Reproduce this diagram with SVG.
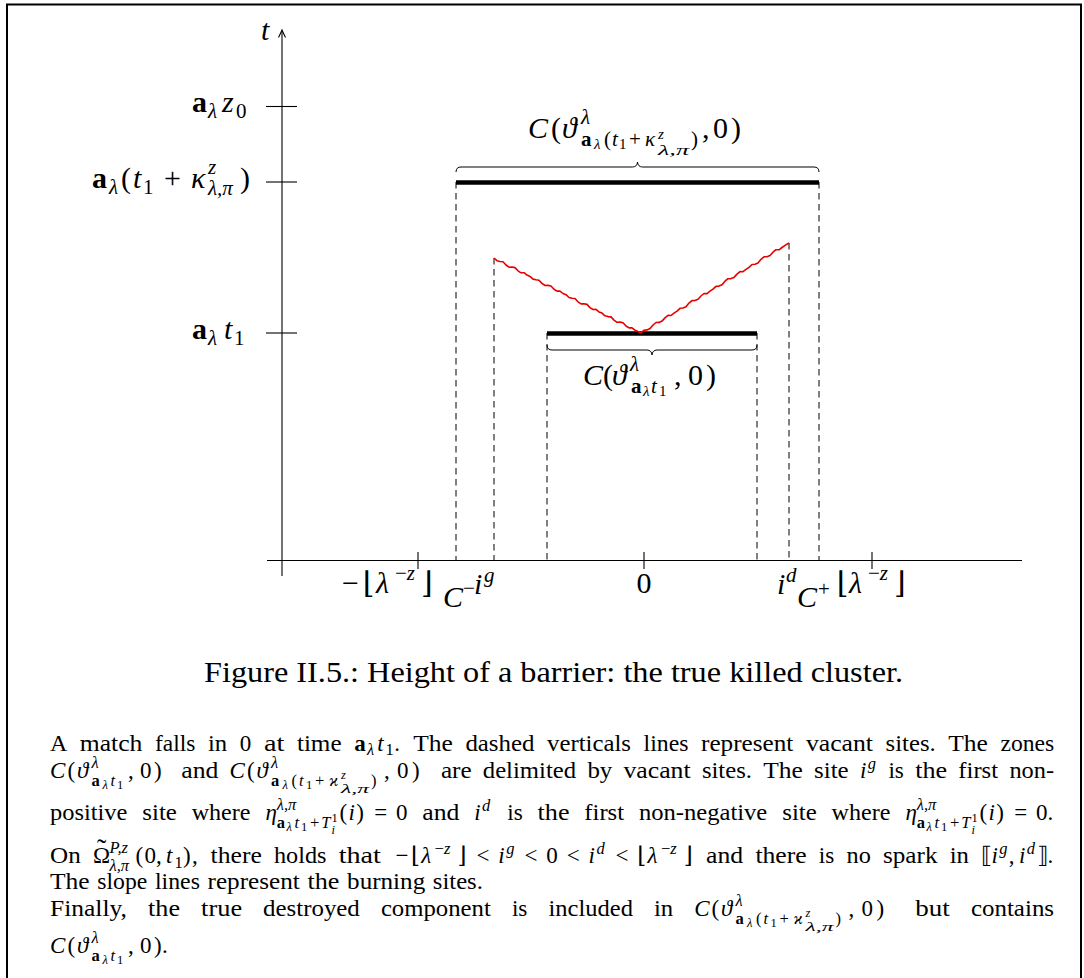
<svg xmlns="http://www.w3.org/2000/svg" width="1084" height="978" viewBox="0 0 1084 978">
<defs>
<style>
text{font-family:"Liberation Serif","DejaVu Serif","DejaVu Sans",serif;fill:#000}
.p{font-size:23px}
.s{font-size:16.5px}
.ss{font-size:12.5px}
.g{font-size:30px}
.gs{font-size:21px}
.gss{font-size:15px}
.i{font-style:italic}
.b{font-weight:bold}
.ax{stroke:#000;stroke-width:1.1;fill:none}
.dash{stroke:#000;stroke-width:1;stroke-dasharray:6.5 4.5;fill:none}
.bar{stroke:#000;stroke-width:4.5}
.brace{stroke:#000;stroke-width:1;fill:none}
</style>
</defs>
<rect x="0" y="0" width="1084" height="978" fill="#fff"/>
<g id="frame"><rect x="7" y="4.5" width="1074" height="1000" fill="none" stroke="#000" stroke-width="2"/></g>

<g id="axes">
<line class="ax" x1="282" y1="576" x2="282" y2="31"/>
<path class="ax" d="M278.5,37.5 Q280.5,33.5 282,30 Q283.5,33.5 285.5,37.5"/>
<line class="ax" x1="267" y1="560.5" x2="1022" y2="560.5"/>
<line class="ax" x1="266" y1="106.5" x2="297" y2="106.5"/>
<line class="ax" x1="266" y1="182" x2="297" y2="182"/>
<line class="ax" x1="266" y1="333" x2="297" y2="333"/>
<line class="ax" x1="418" y1="552" x2="418" y2="569"/>
<line class="ax" x1="644" y1="552" x2="644" y2="569"/>
<line class="ax" x1="872" y1="552" x2="872" y2="569"/>
</g>

<g id="axis-labels">
<text class="g i" x="261" y="40">t</text>
<text class="g" y="112"><tspan x="192" class="b">a</tspan><tspan x="208" y="118" class="gs i">λ</tspan><tspan x="222" y="112" class="i">z</tspan><tspan x="236" y="118" class="gs">0</tspan></text>
<text class="g" y="188"><tspan x="92" class="b">a</tspan><tspan x="109" y="194" class="gs i">λ</tspan><tspan x="121" y="188">(</tspan><tspan x="133" class="i">t</tspan><tspan x="143" y="194" class="gs">1</tspan><tspan x="164" y="188">+</tspan><tspan x="191" class="i">κ</tspan><tspan x="208" y="174" class="gs i">z</tspan><tspan x="208" y="195" class="gs i">λ,π</tspan><tspan x="240" y="188">)</tspan></text>
<text class="g" y="339"><tspan x="192" class="b">a</tspan><tspan x="208" y="345" class="gs i">λ</tspan><tspan x="224" y="339" class="i">t</tspan><tspan x="234" y="345" class="gs">1</tspan></text>
<text class="g" y="593"><tspan x="342">−</tspan><tspan x="363">⌊</tspan><tspan x="376" class="i">λ</tspan><tspan x="395" y="580" class="gs">−<tspan class="i">z</tspan></tspan><tspan x="421" y="593">⌋</tspan></text>
<text class="g" y="607"><tspan x="443" class="i">C</tspan><tspan x="463" y="595" class="gs">−</tspan></text>
<text class="g" y="594"><tspan x="474" class="i">i</tspan><tspan x="484" y="582" class="gs i">g</tspan></text>
<text class="g" x="644" y="593" text-anchor="middle">0</text>
<text class="g" y="594"><tspan x="777" class="i">i</tspan><tspan x="786" y="582" class="gs i">d</tspan></text>
<text class="g" y="607"><tspan x="797" class="i">C</tspan><tspan x="818" y="596" class="gs">+</tspan></text>
<text class="g" y="593"><tspan x="837">⌊</tspan><tspan x="849" class="i">λ</tspan><tspan x="868" y="580" class="gs">−<tspan class="i">z</tspan></tspan><tspan x="894" y="593">⌋</tspan></text>
</g>

<g id="connectors">
<line class="dash" x1="456" y1="182" x2="456" y2="560.5"/>
<line class="dash" x1="494" y1="258" x2="494" y2="560.5"/>
<line class="dash" x1="547" y1="333" x2="547" y2="560.5"/>
<line class="dash" x1="757" y1="333" x2="757" y2="560.5"/>
<line class="dash" x1="789" y1="243" x2="789" y2="560.5"/>
<line class="dash" x1="819" y1="182" x2="819" y2="560.5"/>
</g>

<g id="outer-cluster">
<line class="bar" x1="456" y1="182.5" x2="819" y2="182.5"/>
<path class="brace" d="M456,172 C456,168.5 458,167 461,167 L632.5,167 C635.5,167 637.5,165 637.5,162 C637.5,165 639.5,167 642.5,167 L814,167 C817,167 819,168.5 819,172"/>
<text class="g" y="138"><tspan x="528" class="i">C</tspan><tspan x="551">(</tspan><tspan x="562" class="i">ϑ</tspan><tspan x="581" y="124" class="gs i">λ</tspan><tspan x="581" y="146" class="gs b">a</tspan><tspan x="594" y="149" class="gss i">λ</tspan><tspan x="604" y="146" class="gs">(</tspan><tspan x="612" class="gs i">t</tspan><tspan x="619" y="149" class="gss">1</tspan><tspan x="629" y="146" class="gs">+</tspan><tspan x="645" class="gs i">κ</tspan><tspan x="658" y="139" class="gss i">z</tspan><tspan x="658" y="155" class="gss i" textLength="31" lengthAdjust="spacingAndGlyphs">λ,π</tspan><tspan x="691" y="146" class="gs">)</tspan><tspan x="702" y="138">,</tspan><tspan x="713">0</tspan><tspan x="731">)</tspan></text>
</g>

<g id="inner-cluster">
<line class="bar" x1="547" y1="333.5" x2="757" y2="333.5"/>
<path class="brace" d="M547,345 C547,348.5 549,350 552,350 L647,350 C650,350 652,352 652,355 C652,352 654,350 657,350 L752,350 C755,350 757,348.5 757,345"/>
<text class="g" y="385"><tspan x="583" class="i">C</tspan><tspan x="603">(</tspan><tspan x="612" class="i">ϑ</tspan><tspan x="630" y="371" class="gs i">λ</tspan><tspan x="631" y="393" class="gs b">a</tspan><tspan x="643" y="396" class="gss i">λ</tspan><tspan x="651" y="393" class="gs i">t</tspan><tspan x="659" y="396" class="gss">1</tspan><tspan x="674" y="385">,</tspan><tspan x="688">0</tspan><tspan x="706">)</tspan></text>
</g>

<g id="burning">
<polyline fill="none" stroke="#e80000" stroke-width="1.6" stroke-linejoin="round" points="494,258 497,260.7 500,261.5 503,261.8 506,265 509,267.2 512,267 515,267.6 518,270.8 521,272.8 524,272.7 527,275.1 530,276.4 533,279.1 536,279.8 539,280.2 542,283.4 545,285.5 548,285.4 551,286 554,289.2 557,291.1 560,291.1 563,293.5 566,294.7 569,297.5 572,298.2 575,298.5 578,301.8 581,303.9 584,303.7 587,304.4 590,307.6 593,309.5 596,309.4 599,311.9 602,313.1 605,315.8 608,316.6 611,316.9 614,320.1 617,322.3 620,322.1 623,322.7 626,326 629,327.9 632,327.8 635,330.2 638,331.5 641,333 644,330.2 647,329.9 650,328.6 653,325 656,322.5 659,322.4 662,321.1 665,317.9 668,315.4 671,315.5 674,313.1 677,311.1 680,308.3 683,308 686,306.7 689,303.1 692,300.6 695,300.5 698,299.2 701,296 704,293.5 707,293.6 710,291.2 713,289.2 716,286.4 719,286.1 722,284.8 725,281.2 728,278.7 731,278.6 734,277.4 737,274.1 740,271.6 743,271.7 746,269.4 749,267.3 752,264.5 755,264.2 758,263 761,259.3 764,256.8 767,256.7 770,255.5 773,252.2 776,249.7 779,249.8 782,247.5 785,245.4 789,243"/>
</g>

<g id="caption">
<text x="204" y="682" font-size="28.8" textLength="699" lengthAdjust="spacingAndGlyphs">Figure II.5.: Height of a barrier: the true killed cluster.</text>
</g>

<g id="paragraph">
<text class="p" y="751"><tspan x="50" textLength="17.3" lengthAdjust="spacingAndGlyphs">A</tspan><tspan x="79.8" textLength="62.6" lengthAdjust="spacingAndGlyphs">match</tspan><tspan x="155" textLength="40.4" lengthAdjust="spacingAndGlyphs">falls</tspan><tspan x="208" textLength="19.2" lengthAdjust="spacingAndGlyphs">in</tspan><tspan x="239.8">0</tspan><tspan x="263.9" textLength="20.4" lengthAdjust="spacingAndGlyphs">at</tspan><tspan x="296.9" textLength="44.7" lengthAdjust="spacingAndGlyphs">time</tspan><tspan x="354.2" class="b">a</tspan><tspan x="367.1" y="755" class="s i">λ</tspan><tspan x="377.2" y="751" class="i">t</tspan><tspan x="385.5" y="755" class="s">1</tspan><tspan x="394.2" y="751">.</tspan><tspan x="413.2" textLength="39.6" lengthAdjust="spacingAndGlyphs">The</tspan><tspan x="465.4" textLength="69.1" lengthAdjust="spacingAndGlyphs">dashed</tspan><tspan x="547.1" textLength="83.9" lengthAdjust="spacingAndGlyphs">verticals</tspan><tspan x="643.6" textLength="44.9" lengthAdjust="spacingAndGlyphs">lines</tspan><tspan x="701" textLength="92.3" lengthAdjust="spacingAndGlyphs">represent</tspan><tspan x="805.9" textLength="67.1" lengthAdjust="spacingAndGlyphs">vacant</tspan><tspan x="885.6" textLength="50.1" lengthAdjust="spacingAndGlyphs">sites.</tspan><tspan x="948.3" textLength="39.6" lengthAdjust="spacingAndGlyphs">The</tspan><tspan x="1000.5" textLength="53.8" lengthAdjust="spacingAndGlyphs">zones</tspan></text>

<text class="p" y="778"><tspan x="50" class="i">C</tspan><tspan x="67.5">(</tspan><tspan x="77" class="i">ϑ</tspan><tspan x="91.5" y="767.5" class="s i">λ</tspan><tspan x="91.5" y="785.5" class="s b">a</tspan><tspan x="102.5" y="788.5" class="ss i">λ</tspan><tspan x="110.5" y="785.5" class="s i">t</tspan><tspan x="117" y="788.5" class="ss">1</tspan><tspan x="128" y="778">,</tspan><tspan x="140">0</tspan><tspan x="154">)</tspan><tspan x="181.3" textLength="37.1" lengthAdjust="spacingAndGlyphs">and</tspan><tspan x="229.6" class="i">C</tspan><tspan x="247">(</tspan><tspan x="256.5" class="i">ϑ</tspan><tspan x="271" y="767.5" class="s i">λ</tspan><tspan x="271" y="785.5" class="s b">a</tspan><tspan x="282.5" y="788.5" class="ss i">λ</tspan><tspan x="291.5" y="785.5" class="s">(</tspan><tspan x="299" class="s i">t</tspan><tspan x="306" y="788.5" class="ss">1</tspan><tspan x="315" y="785.5" class="s">+</tspan><tspan x="329" class="s i">ϰ</tspan><tspan x="341" y="779" class="ss i">z</tspan><tspan x="341" y="792.5" class="ss i" textLength="28" lengthAdjust="spacingAndGlyphs">λ,π</tspan><tspan x="371" y="785.5" class="s">)</tspan><tspan x="384" y="778">,</tspan><tspan x="397">0</tspan><tspan x="412">)</tspan><tspan x="440.9" textLength="30.7" lengthAdjust="spacingAndGlyphs">are</tspan><tspan x="482.8" textLength="93.3" lengthAdjust="spacingAndGlyphs">delimited</tspan><tspan x="587.4" textLength="24.9" lengthAdjust="spacingAndGlyphs">by</tspan><tspan x="623.5" textLength="67.1" lengthAdjust="spacingAndGlyphs">vacant</tspan><tspan x="701.9" textLength="50.1" lengthAdjust="spacingAndGlyphs">sites.</tspan><tspan x="763.2" textLength="39.6" lengthAdjust="spacingAndGlyphs">The</tspan><tspan x="814.1" textLength="34.6" lengthAdjust="spacingAndGlyphs">site</tspan><tspan x="859.9" class="i">i</tspan><tspan x="867.8" y="768.5" class="s i">g</tspan><tspan x="888.4" y="778" textLength="15.5" lengthAdjust="spacingAndGlyphs">is</tspan><tspan x="915.2" textLength="31.9" lengthAdjust="spacingAndGlyphs">the</tspan><tspan x="958.3" textLength="39.8" lengthAdjust="spacingAndGlyphs">first</tspan><tspan x="1009.4" textLength="44.7" lengthAdjust="spacingAndGlyphs">non-</tspan></text>

<text class="p" y="820"><tspan x="50" textLength="77.4" lengthAdjust="spacingAndGlyphs">positive</tspan><tspan x="142.3" textLength="34.6" lengthAdjust="spacingAndGlyphs">site</tspan><tspan x="191.7" textLength="58.8" lengthAdjust="spacingAndGlyphs">where</tspan><tspan x="265.4" class="i">η</tspan><tspan x="276.8" y="809.5" class="s i">λ,π</tspan><tspan x="276.8" y="827.5" class="s b">a</tspan><tspan x="286.5" y="830.5" class="ss i">λ</tspan><tspan x="294.6" y="827.5" class="s i">t</tspan><tspan x="300.9" y="830.5" class="ss">1</tspan><tspan x="310" y="827.5" class="s">+</tspan><tspan x="321.3" class="s i">T</tspan><tspan x="331.4" y="821.5" class="ss">1</tspan><tspan x="331.4" y="834" class="ss i">i</tspan><tspan x="339.5" y="820">(</tspan><tspan x="348.4" class="i">i</tspan><tspan x="356.3">)</tspan><tspan x="374.2">=</tspan><tspan x="396">0</tspan><tspan x="422.3" textLength="37.1" lengthAdjust="spacingAndGlyphs">and</tspan><tspan x="474.2" class="i">i</tspan><tspan x="482.1" y="810.5" class="s i">d</tspan><tspan x="507.3" y="820" textLength="15.5" lengthAdjust="spacingAndGlyphs">is</tspan><tspan x="537.6" textLength="31.9" lengthAdjust="spacingAndGlyphs">the</tspan><tspan x="584.3" textLength="39.8" lengthAdjust="spacingAndGlyphs">first</tspan><tspan x="638.9" textLength="128.4" lengthAdjust="spacingAndGlyphs">non-negative</tspan><tspan x="782.2" textLength="34.6" lengthAdjust="spacingAndGlyphs">site</tspan><tspan x="831.6" textLength="58.8" lengthAdjust="spacingAndGlyphs">where</tspan><tspan x="905.4" class="i">η</tspan><tspan x="916.8" y="809.5" class="s i">λ,π</tspan><tspan x="916.8" y="827.5" class="s b">a</tspan><tspan x="926.5" y="830.5" class="ss i">λ</tspan><tspan x="934.6" y="827.5" class="s i">t</tspan><tspan x="940.9" y="830.5" class="ss">1</tspan><tspan x="950" y="827.5" class="s">+</tspan><tspan x="961.3" class="s i">T</tspan><tspan x="971.4" y="821.5" class="ss">1</tspan><tspan x="971.4" y="834" class="ss i">i</tspan><tspan x="979.5" y="820">(</tspan><tspan x="988.4" class="i">i</tspan><tspan x="996.3">)</tspan><tspan x="1014.2">=</tspan><tspan x="1036">0</tspan><tspan x="1047.5">.</tspan></text>

<text class="p" y="863"><tspan x="50" textLength="30.7" lengthAdjust="spacingAndGlyphs">On</tspan><tspan x="92.9">Ω</tspan><tspan x="97" y="858" font-size="28">˜</tspan><tspan x="109.5" y="852.5" class="s i">P,z</tspan><tspan x="109.5" y="870.5" class="s i">λ,π</tspan><tspan x="135.5" y="863">(</tspan><tspan x="144.4">0</tspan><tspan x="155.9">,</tspan><tspan x="166.1" class="i">t</tspan><tspan x="174.4" y="867.5" class="s">1</tspan><tspan x="183.1" y="863">)</tspan><tspan x="192">,</tspan><tspan x="210.6" textLength="51.2" lengthAdjust="spacingAndGlyphs">there</tspan><tspan x="274" textLength="52.5" lengthAdjust="spacingAndGlyphs">holds</tspan><tspan x="338.7" textLength="42.2" lengthAdjust="spacingAndGlyphs">that</tspan><tspan x="395.6">−</tspan><tspan x="411">⌊</tspan><tspan x="421.2" class="i">λ</tspan><tspan x="434.6" y="853.5" class="s">−<tspan class="i">z</tspan></tspan><tspan x="457.4" y="863">⌋</tspan><tspan x="476.5">&lt;</tspan><tspan x="498.3" class="i">i</tspan><tspan x="506.2" y="853.5" class="s i">g</tspan><tspan x="524.5" y="863">&lt;</tspan><tspan x="546.3">0</tspan><tspan x="566.7">&lt;</tspan><tspan x="588.5" class="i">i</tspan><tspan x="596.4" y="853.5" class="s i">d</tspan><tspan x="615.5" y="863">&lt;</tspan><tspan x="637.3">⌊</tspan><tspan x="647.5" class="i">λ</tspan><tspan x="660.9" y="853.5" class="s">−<tspan class="i">z</tspan></tspan><tspan x="683.7" y="863">⌋</tspan><tspan x="706.1" textLength="37.1" lengthAdjust="spacingAndGlyphs">and</tspan><tspan x="755.4" textLength="51.2" lengthAdjust="spacingAndGlyphs">there</tspan><tspan x="818.8" textLength="15.5" lengthAdjust="spacingAndGlyphs">is</tspan><tspan x="846.5" textLength="24.3" lengthAdjust="spacingAndGlyphs">no</tspan><tspan x="883" textLength="54.5" lengthAdjust="spacingAndGlyphs">spark</tspan><tspan x="949.7" textLength="19.2" lengthAdjust="spacingAndGlyphs">in</tspan><tspan x="981">⟦</tspan><tspan x="991.4" class="i">i</tspan><tspan x="999.3" y="853.5" class="s i">g</tspan><tspan x="1008.7" y="863">,</tspan><tspan x="1018.9" class="i">i</tspan><tspan x="1026.8" y="853.5" class="s i">d</tspan><tspan x="1037" y="863">⟧</tspan><tspan x="1047.4">.</tspan></text>

<text class="p" y="889"><tspan x="50" textLength="39.6" lengthAdjust="spacingAndGlyphs">The</tspan><tspan x="97.3" textLength="50" lengthAdjust="spacingAndGlyphs">slope</tspan><tspan x="155" textLength="44.9" lengthAdjust="spacingAndGlyphs">lines</tspan><tspan x="207.5" textLength="92.3" lengthAdjust="spacingAndGlyphs">represent</tspan><tspan x="307.5" textLength="31.9" lengthAdjust="spacingAndGlyphs">the</tspan><tspan x="347.1" textLength="78.1" lengthAdjust="spacingAndGlyphs">burning</tspan><tspan x="432.8" textLength="50.1" lengthAdjust="spacingAndGlyphs">sites.</tspan></text>

<text class="p" y="916"><tspan x="50" textLength="77" lengthAdjust="spacingAndGlyphs">Finally,</tspan><tspan x="148.1" textLength="31.9" lengthAdjust="spacingAndGlyphs">the</tspan><tspan x="201.1" textLength="41" lengthAdjust="spacingAndGlyphs">true</tspan><tspan x="263.1" textLength="96.7" lengthAdjust="spacingAndGlyphs">destroyed</tspan><tspan x="380.9" textLength="109.9" lengthAdjust="spacingAndGlyphs">component</tspan><tspan x="511.9" textLength="15.5" lengthAdjust="spacingAndGlyphs">is</tspan><tspan x="548.5" textLength="84.4" lengthAdjust="spacingAndGlyphs">included</tspan><tspan x="654" textLength="19.2" lengthAdjust="spacingAndGlyphs">in</tspan><tspan x="694.2" class="i">C</tspan><tspan x="711.6">(</tspan><tspan x="721.1" class="i">ϑ</tspan><tspan x="735.6" y="905.5" class="s i">λ</tspan><tspan x="735.6" y="923.5" class="s b">a</tspan><tspan x="747.1" y="926.5" class="ss i">λ</tspan><tspan x="756.1" y="923.5" class="s">(</tspan><tspan x="763.6" class="s i">t</tspan><tspan x="770.6" y="926.5" class="ss">1</tspan><tspan x="779.6" y="923.5" class="s">+</tspan><tspan x="793.6" class="s i">ϰ</tspan><tspan x="805.6" y="917" class="ss i">z</tspan><tspan x="805.6" y="930.5" class="ss i" textLength="28" lengthAdjust="spacingAndGlyphs">λ,π</tspan><tspan x="835.6" y="923.5" class="s">)</tspan><tspan x="848.6" y="916">,</tspan><tspan x="861.6">0</tspan><tspan x="876.6">)</tspan><tspan x="915.3" textLength="34.5" lengthAdjust="spacingAndGlyphs">but</tspan><tspan x="970.9" textLength="83.2" lengthAdjust="spacingAndGlyphs">contains</tspan></text>

<text class="p" y="953"><tspan x="50" class="i">C</tspan><tspan x="67.5">(</tspan><tspan x="77" class="i">ϑ</tspan><tspan x="91.5" y="942.5" class="s i">λ</tspan><tspan x="91.5" y="960.5" class="s b">a</tspan><tspan x="102.5" y="963.5" class="ss i">λ</tspan><tspan x="110.5" y="960.5" class="s i">t</tspan><tspan x="117" y="963.5" class="ss">1</tspan><tspan x="128" y="953">,</tspan><tspan x="140">0</tspan><tspan x="154">)</tspan><tspan x="162">.</tspan></text>
</g>
</svg>
